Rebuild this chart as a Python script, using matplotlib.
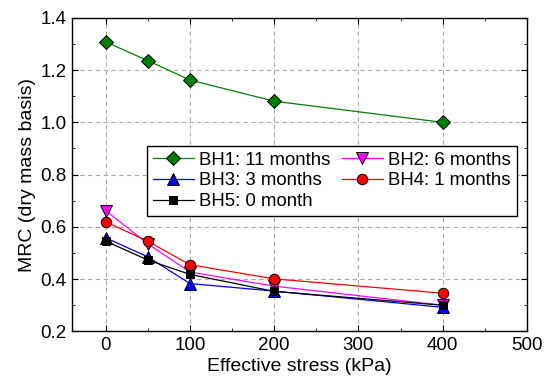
import matplotlib.pyplot as plt
from matplotlib.ticker import MultipleLocator

plt.rcParams['font.family'] = ['Liberation Sans', 'DejaVu Sans']

# effective stress steps (kPa)
stress = [0, 50, 100, 200, 400]

# moisture retention per borehole
bh1 = [1.308, 1.236, 1.162, 1.081, 1.000]
bh2 = [0.662, 0.535, 0.427, 0.373, 0.300]
bh3 = [0.558, 0.485, 0.383, 0.354, 0.292]
bh4 = [0.619, 0.545, 0.455, 0.401, 0.346]
bh5 = [0.545, 0.473, 0.418, 0.353, 0.300]

labels = ['BH1: 11 months', 'BH2: 6 months', 'BH3: 3 months',
          'BH4: 1 months', 'BH5: 0 month']

fig = plt.figure(figsize=(5.5, 3.8), dpi=100)
ax = fig.add_axes([0.131, 0.128, 0.827, 0.825])

ms = 7.5
l1, = ax.plot(stress, bh1, '-D', color='green', mfc='green', mec='black', mew=0.7, ms=ms - 0.5, lw=0.9, label=labels[0], zorder=3)
l2, = ax.plot(stress, bh2, '-v', color='magenta', mfc='magenta', mec='black', mew=0.7, ms=ms + 1, lw=0.9, label=labels[1], zorder=3)
l3, = ax.plot(stress, bh3, '-^', color='blue', mfc='blue', mec='black', mew=0.7, ms=ms + 1, lw=0.9, label=labels[2], zorder=3)
l4, = ax.plot(stress, bh4, '-o', color='red', mfc='red', mec='black', mew=0.7, ms=ms, lw=0.9, label=labels[3], zorder=3)
l5, = ax.plot(stress, bh5, '-s', color='black', mfc='black', mec='black', mew=0.7, ms=ms - 1.5, lw=0.9, label=labels[4], zorder=3)

ax.set_xlim(-40, 500)
ax.set_ylim(0.2, 1.4)
ax.xaxis.set_major_locator(MultipleLocator(100))
ax.xaxis.set_minor_locator(MultipleLocator(50))
ax.yaxis.set_major_locator(MultipleLocator(0.2))
ax.yaxis.set_minor_locator(MultipleLocator(0.1))
ax.yaxis.set_major_formatter(plt.FormatStrFormatter('%.1f'))
ax.tick_params(which='both', direction='in', top=True, right=True, labelsize=13.5)
ax.tick_params(which='major', length=4, pad=4)
ax.tick_params(which='minor', length=2.5)
ax.grid(True, which='major', ls=(0, (4, 3)), color='#aaaaaa', lw=0.8)
ax.set_axisbelow(True)
for s in ax.spines.values():
    s.set_linewidth(1.0)

ax.set_xlabel('Effective stress (kPa)', fontsize=14, labelpad=3)
ax.set_ylabel('MRC (dry mass basis)', fontsize=14, labelpad=3)

ax.legend(handles=[l1, l3, l5, l2, l4], ncol=2, loc='upper left',
          bbox_to_anchor=(0.165, 0.591), fontsize=13.4, frameon=True,
          fancybox=False, edgecolor='black', framealpha=1,
          handlelength=2.2, handletextpad=0.3, columnspacing=0.6,
          labelspacing=0.2, borderpad=0.3, borderaxespad=0)

fig.savefig('out.png', dpi=100)
